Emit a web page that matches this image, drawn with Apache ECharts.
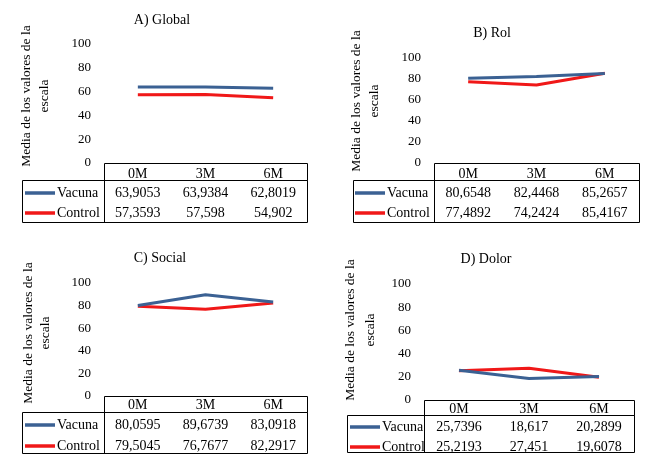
<!DOCTYPE html>
<html><head><meta charset="utf-8">
<script src="https://cdn.jsdelivr.net/npm/echarts@6/dist/echarts.min.js"></script>
<style>html,body{margin:0;padding:0;background:#fff}#c{width:650px;height:460px}</style>
</head><body><div id="c"></div>
<script>
const categories = ['0M', '3M', '6M'];
const seriesNames = ['Vacuna', 'Control'];
const panelTitles = ['A) Global', 'B) Rol', 'C) Social', 'D) Dolor'];
const yMin = 0, yMax = 100, yStep = 20;
const axisTitle = 'Media de los valores de la\nescala';
const globalVacuna = [63.9053, 63.9384, 62.8019];
const globalControl = [57.3593, 57.598, 54.902];
const rolVacuna = [80.6548, 82.4468, 85.2657];
const rolControl = [77.4892, 74.2424, 85.4167];
const socialVacuna = [80.0595, 89.6739, 83.0918];
const socialControl = [79.5045, 76.7677, 82.2917];
const dolorVacuna = [25.7396, 18.617, 20.2899];
const dolorControl = [25.2193, 27.451, 19.6078];
const panelData = [[globalVacuna, globalControl], [rolVacuna, rolControl], [socialVacuna, socialControl], [dolorVacuna, dolorControl]];

const colors = ['#3B6193', '#F01818'];
const FONT = 'Liberation Serif';

// layout (pixel geometry, not data)
const L = [
  {tx:162, ty:20,  left:104, right:307, y100:44,  y0:163, hb:180, bot:222, tl:22,  hc:174, r1:193, r2:213, k0:25,  k1:55,  lx:57,  yt1:26,  yt2:44,  ytc:96},
  {tx:492, ty:33,  left:434, right:639, y100:58,  y0:163, hb:180, bot:222, tl:353, hc:174, r1:193, r2:213, k0:355, k1:385, lx:387, yt1:356, yt2:374, ytc:101},
  {tx:160, ty:258, left:104, right:307, y100:283, y0:396, hb:412, bot:453, tl:22,  hc:405, r1:425, r2:446, k0:25,  k1:55,  lx:57,  yt1:28,  yt2:45,  ytc:333},
  {tx:486, ty:259, left:424, right:634, y100:284, y0:400, hb:415, bot:452, tl:347, hc:409, r1:427, r2:447, k0:350, k1:380, lx:382, yt1:350, yt2:370, ytc:330}
];

const fmt = v => String(v).replace('.', ',');
const txt = (text, x, y, size, align, rot) => ({
  type: 'text', x, y, rotation: rot || 0,
  style: {text, fontFamily: FONT, fontSize: size, fill: '#000', align, verticalAlign: 'middle'}
});

const grid = [], xAxis = [], yAxis = [], series = [], graphic = [];
L.forEach((g, p) => {
  grid.push({left: g.left, top: g.y100, width: g.right - g.left, height: g.y0 - g.y100, containLabel: false});
  const rows = [
    {data: categories, c: g.hc},
    {data: panelData[p][0].map(fmt), c: g.r1},
    {data: panelData[p][1].map(fmt), c: g.r2}
  ];
  rows.forEach(r => {
    xAxis.push({
      type: 'category', gridIndex: p, data: r.data, position: 'bottom', offset: r.c - g.y0,
      boundaryGap: true,
      axisLine: {show: false}, axisTick: {show: false}, splitLine: {show: false},
      axisLabel: {margin: 0, verticalAlign: 'middle', fontFamily: FONT, fontSize: 14, color: '#000', interval: 0}
    });
  });
  yAxis.push({
    type: 'value', gridIndex: p, min: yMin, max: yMax, interval: yStep,
    axisLine: {show: false}, axisTick: {show: false}, splitLine: {show: false},
    axisLabel: {margin: 13, fontFamily: FONT, fontSize: 13, color: '#000'}
  });
  seriesNames.forEach((n, s) => {
    series.push({
      type: 'line', name: n, xAxisIndex: p * 3, yAxisIndex: p, data: panelData[p][s],
      symbol: 'none', silent: true, animation: false, z: 3 - s + 2,
      lineStyle: {width: 3, color: colors[s]}, itemStyle: {color: colors[s]}
    });
  });
  graphic.push(txt(panelTitles[p], g.tx, g.ty, 14, 'center'));
  const at = axisTitle.split('\n');
  graphic.push(txt(at[0], g.yt1, g.ytc, 13.5, 'center', Math.PI / 2));
  graphic.push(txt(at[1], g.yt2, g.ytc, 13.5, 'center', Math.PI / 2));
  graphic.push({type: 'rect', shape: {x: g.left + 0.5, y: g.y0 + 0.5, width: g.right - g.left, height: g.hb - g.y0}, style: {fill: null, stroke: '#000', lineWidth: 1}});
  graphic.push({type: 'rect', shape: {x: g.tl + 0.5, y: g.hb + 0.5, width: g.right - g.tl, height: g.bot - g.hb}, style: {fill: null, stroke: '#000', lineWidth: 1}});
  graphic.push({type: 'line', shape: {x1: g.left + 0.5, y1: g.hb, x2: g.left + 0.5, y2: g.bot}, style: {stroke: '#000', lineWidth: 1}});
  [g.r1, g.r2].forEach((ry, s) => {
    graphic.push({type: 'line', shape: {x1: g.k0, y1: ry, x2: g.k1, y2: ry}, style: {stroke: colors[s], lineWidth: 3.5}});
    graphic.push(txt(seriesNames[s], g.lx, ry, 14, 'left'));
  });
});

const chart = echarts.init(document.getElementById('c'), null, {renderer: 'canvas'});
chart.setOption({animation: false, backgroundColor: '#fff', textStyle: {fontFamily: FONT}, grid, xAxis, yAxis, series, graphic});
</script></body></html>
